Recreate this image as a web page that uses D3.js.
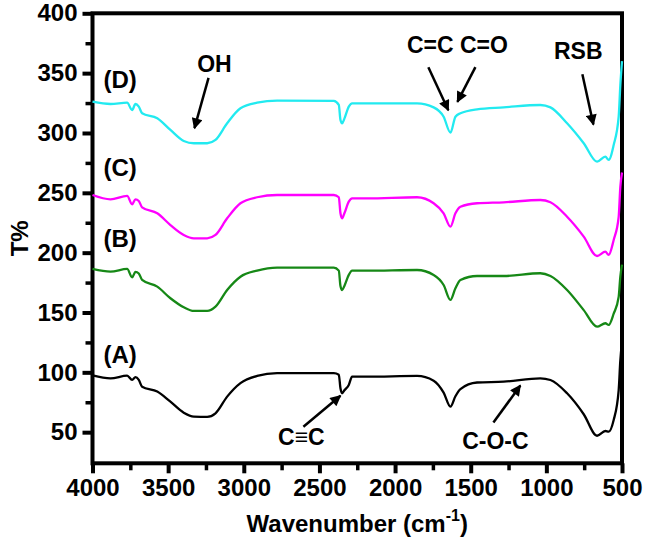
<!DOCTYPE html>
<html>
<head>
<meta charset="utf-8">
<script src="https://cdn.jsdelivr.net/npm/d3@7"></script>
<style>
  html, body { margin: 0; padding: 0; background: #fff; }
  svg text { font-family: "Liberation Sans", Arial, sans-serif; font-weight: bold; fill: #000; }
</style>
</head>
<body>
<div id="chart"></div>
<script>
// wavenumber grid shared by all four spectra (cm-1)
const wavenumbers = [4000, 3881, 3771, 3738, 3716, 3694, 3672, 3572, 3485, 3397, 3330, 3242, 3187, 3110, 3022, 2912, 2780,
    2405, 2372, 2361, 2350, 2335, 2306, 2284, 2185, 1855, 1745, 1679, 1634, 1601, 1568, 1458, 1282, 1040, 973, 863, 753,
    665, 610, 588, 555, 522, 511, 500];

// T% values, one list per sample
const specA = [97.5, 95, 97.2, 93.7, 96, 93.7, 88, 84, 75.5, 66.3, 63, 62.8, 65.8, 79.7, 91, 97, 99.3,
    99.3, 98, 86.7, 82.5, 85, 89.5, 96.4, 96.4, 97, 93, 83, 71.3, 80, 86, 91.5, 92.2, 95, 93.6, 82.5, 65,
    47, 51, 50.4, 60.2, 85, 110, 125];
const specB = [186.4, 184.1, 186.4, 179.4, 184, 182.6, 177.2, 171.6, 161.9, 154.4, 151.3, 151.3, 154.9, 168.8, 179.9, 185, 187.5,
    187.5, 185, 172.2, 168.8, 172.2, 181.4, 185, 185, 185.5, 181.4, 173, 160.5, 170.3, 177.2, 180.5, 180.5, 182.8, 180.5, 168.8, 152,
    138.2, 141, 139.6, 149, 163, 180, 190];
const specC = [248.2, 244.6, 247.4, 240.4, 244.6, 243.2, 237.9, 232.9, 223.1, 214.8, 212, 212, 214.8, 228.7, 241.3, 246.3, 248.2,
    248.2, 246.3, 232.9, 228.7, 232.9, 242.6, 245.4, 245.4, 246.3, 241.3, 232.9, 221.7, 232.9, 238.4, 241.3, 242.1, 244, 242.1, 230, 213.4,
    197.2, 200.8, 198.1, 210.6, 230, 255, 267];
const specD = [326.1, 324.2, 325.3, 319.2, 324.2, 322, 316.5, 312.3, 302.5, 293.3, 291.4, 291.4, 294.2, 308.1, 320.6, 325.3, 327,
    326.8, 323.4, 310.9, 308.1, 312, 322, 324.8, 324.8, 324.8, 321.4, 313.6, 300.3, 313.6, 316.5, 319.8, 321.4, 323.4, 321.4, 308.1, 291.4,
    276, 280.2, 277.5, 290, 313.6, 340, 360];

const seriesNames = ["(A)", "(B)", "(C)", "(D)"];
const seriesColours = ["#000000", "#168816", "#ff00ff", "#22eaf0"];

const xTicks = [4000, 3500, 3000, 2500, 2000, 1500, 1000, 500];
const yTicks = [50, 100, 150, 200, 250, 300, 350, 400];

// sample labels: [wavenumber, T%] of the text's left baseline
const labelPos = [[3927, 107.8], [3927, 204.8], [3927, 264], [3927, 337.6]];

// band annotations in data units: text centre and arrows [from, to]
const bands = [
    {text: "OH", at: [3194, 351], arrows: [[[3233, 346], [3326, 304]]]},
    {text: "C=C C=O", at: [1588, 367], arrows: [[[1780, 355], [1648, 319]], [[1469, 355], [1588, 326]]]},
    {text: "RSB", at: [789, 362], arrows: [[[762, 349], [689, 307]]]},
    {text: "C\u2261C", at: [2619, 39], arrows: [[[2606, 54.5], [2361, 80.4]]]},
    {text: "C-O-C", at: [1337, 36], arrows: [[[1350, 58], [1172, 89]]]},
];

const W = 645, H = 542;
const margin = {top: 13.3, right: 23, bottom: 78.7, left: 92.5};
const width = W - margin.left - margin.right,
    height = H - margin.top - margin.bottom;

const svg = d3.select("#chart").append("svg")
    .attr("width", W)
    .attr("height", H);

const g = svg.append("g")
    .attr("transform", "translate(" + margin.left + "," + margin.top + ")");

const x = d3.scaleLinear().domain([4000, 500]).range([0, width]);
const y = d3.scaleLinear().domain([24, 400]).range([height, 0]);

// arrowhead
svg.append("defs").append("marker")
    .attr("id", "head")
    .attr("viewBox", "0 0 10 10")
    .attr("refX", 9)
    .attr("refY", 5)
    .attr("markerUnits", "userSpaceOnUse")
    .attr("markerWidth", 13)
    .attr("markerHeight", 11)
    .attr("orient", "auto")
    .append("path")
    .attr("d", "M0,0 L10,5 L0,10 Z")
    .attr("fill", "#000");

// frame
g.append("rect")
    .attr("width", width)
    .attr("height", height)
    .attr("fill", "none")
    .attr("stroke", "#000")
    .attr("stroke-width", 4);

// minor ticks
g.append("g")
    .attr("transform", "translate(0," + height + ")")
    .call(d3.axisBottom(x).tickValues(d3.range(3750, 500, -500)).tickSize(7).tickFormat(""))
    .call(a => a.select(".domain").remove())
    .call(a => a.selectAll("line").attr("stroke-width", 3.5));
g.append("g")
    .call(d3.axisLeft(y).tickValues(d3.range(75, 400, 50)).tickSize(7).tickFormat(""))
    .call(a => a.select(".domain").remove())
    .call(a => a.selectAll("line").attr("stroke-width", 3.5));

// major ticks and labels
g.append("g")
    .attr("transform", "translate(0," + height + ")")
    .call(d3.axisBottom(x).tickValues(xTicks).tickSize(10).tickPadding(6).tickFormat(d3.format("d")))
    .call(a => a.select(".domain").remove())
    .call(a => a.selectAll("line").attr("stroke-width", 4))
    .call(a => a.selectAll("text").attr("font-size", 24).attr("font-family", null));
g.append("g")
    .call(d3.axisLeft(y).tickValues(yTicks).tickSize(10).tickPadding(5).tickFormat(d3.format("d")))
    .call(a => a.select(".domain").remove())
    .call(a => a.selectAll("line").attr("stroke-width", 4))
    .call(a => a.selectAll("text").attr("font-size", 24).attr("font-family", null));

// spectra
const line = d3.line()
    .x((d, i) => x(wavenumbers[i]))
    .y(d => y(d))
    .curve(d3.curveMonotoneX);

[specA, specB, specC, specD].forEach((s, i) => {
    g.append("path")
        .datum(s)
        .attr("fill", "none")
        .attr("stroke", seriesColours[i])
        .attr("stroke-width", 2.3)
        .attr("stroke-linejoin", "round")
        .attr("d", line);
});

// sample labels
g.selectAll("text.sample")
    .data(seriesNames)
    .enter()
    .append("text")
    .attr("class", "sample")
    .attr("x", (d, i) => x(labelPos[i][0]))
    .attr("y", (d, i) => y(labelPos[i][1]))
    .attr("font-size", 24)
    .text(d => d);

// band annotations
bands.forEach(b => {
    g.append("text")
        .attr("x", x(b.at[0]))
        .attr("y", y(b.at[1]))
        .attr("text-anchor", "middle")
        .attr("font-size", 23)
        .text(b.text);
    b.arrows.forEach(a => {
        g.append("line")
            .attr("x1", x(a[0][0]))
            .attr("y1", y(a[0][1]))
            .attr("x2", x(a[1][0]))
            .attr("y2", y(a[1][1]))
            .attr("stroke", "#000")
            .attr("stroke-width", 2.5)
            .attr("marker-end", "url(#head)");
    });
});

// axis titles
svg.append("text")
    .attr("transform", "rotate(-90)")
    .attr("x", -(margin.top + height / 2))
    .attr("y", 28)
    .attr("text-anchor", "middle")
    .attr("font-size", 24)
    .text("T%");

const xt = svg.append("text")
    .attr("x", margin.left + width / 2)
    .attr("y", 532)
    .attr("text-anchor", "middle")
    .attr("font-size", 24);
xt.append("tspan").text("Wavenumber (cm");
xt.append("tspan").attr("font-size", 16).attr("dy", -11).text("-1");
xt.append("tspan").attr("dy", 11).text(")");
</script>
</body>
</html>
